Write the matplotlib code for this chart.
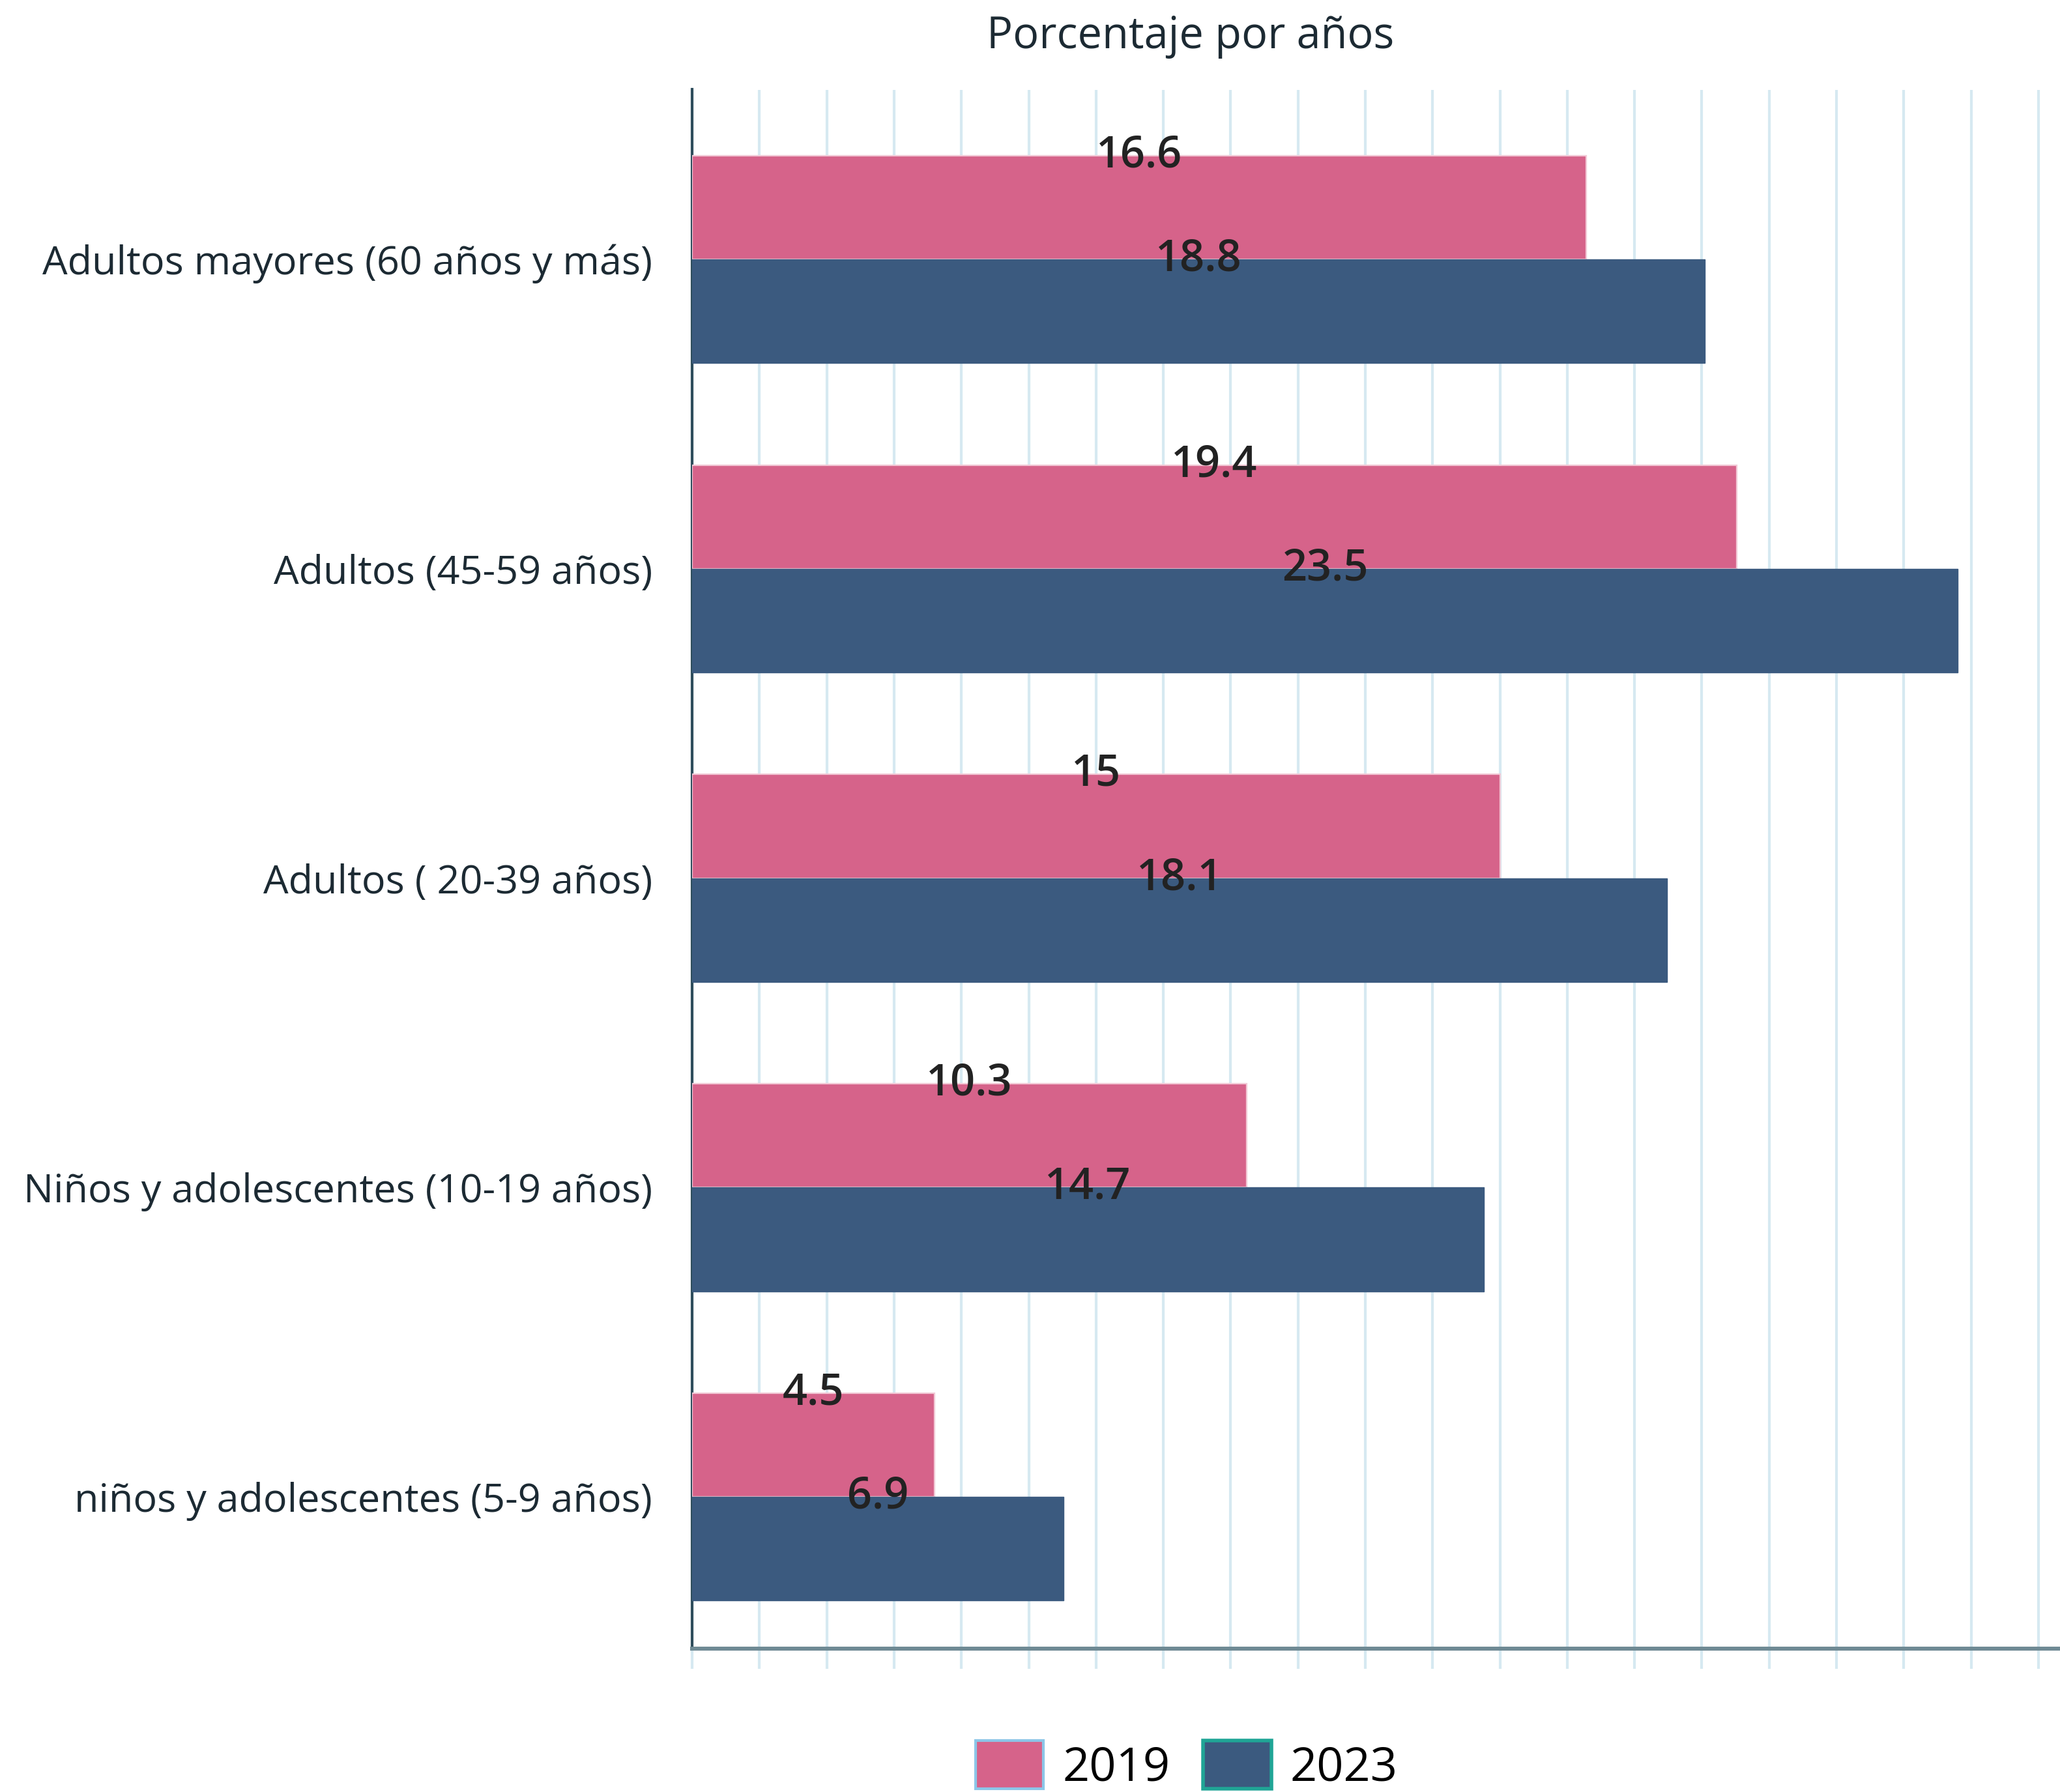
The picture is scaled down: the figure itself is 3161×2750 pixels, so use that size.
import numpy as np
import matplotlib.pyplot as plt
from matplotlib.patches import Patch
from matplotlib.ticker import MultipleLocator

categorias = [
    'Adultos mayores (60 años y más)',
    'Adultos (45-59 años)',
    'Adultos ( 20-39 años)',
    'Niños y adolescentes (10-19 años)',
    'niños y adolescentes (5-9 años)',
]
valores_2019 = [16.6, 19.4, 15, 10.3, 4.5]
valores_2023 = [18.8, 23.5, 18.1, 14.7, 6.9]
etiquetas_2019 = ['16.6', '19.4', '15', '10.3', '4.5']
etiquetas_2023 = ['18.8', '23.5', '18.1', '14.7', '6.9']

rosa = '#d6638a'
azul = '#3b5a7f'
rejilla = '#d6e9f1'

plt.rcParams['font.family'] = ['Open Sans', 'DejaVu Sans']

fig = plt.figure(figsize=(15.805, 13.75), dpi=200)
ax = fig.add_axes([0.336, 0.08, 0.664, 0.87])

y = np.arange(len(categorias))
h = 0.335

ax.barh(y - h / 2, valores_2019, height=h, color=rosa, edgecolor='#f2c9d6', linewidth=0.8, zorder=3)
ax.barh(y + h / 2, valores_2023, height=h, color=azul, edgecolor=azul, linewidth=0.5, zorder=3)

for i in range(len(categorias)):
    ax.text(valores_2019[i] / 2, y[i] - h, etiquetas_2019[i], ha='center', va='center',
            fontsize=24, color='#222222', fontweight='semibold', zorder=5)
    ax.text(valores_2023[i] / 2, y[i], etiquetas_2023[i], ha='center', va='center',
            fontsize=24, color='#222222', fontweight='semibold', zorder=5)

ax.set_xlim(0, 25.4)
ax.set_ylim(4.49, -0.548)
ax.set_yticks(y)
ax.set_yticklabels(categorias, fontsize=22, color='#1c2a33')
ax.tick_params(axis='y', length=0, pad=22)

ax.xaxis.set_major_locator(MultipleLocator(1.25))
ax.tick_params(axis='x', length=11, width=1.5, color=rejilla, labelbottom=False)
ax.grid(axis='x', color=rejilla, linewidth=1.5, zorder=0)
ax.set_axisbelow(True)

for s in ['top', 'right']:
    ax.spines[s].set_visible(False)
ax.spines['left'].set_color('#2e4d5c')
ax.spines['left'].set_linewidth(1.5)
ax.spines['bottom'].set_color('#6f8a94')
ax.spines['bottom'].set_linewidth(2.2)

fig.text(0.578, 0.992, 'Porcentaje por años', ha='center', va='top', fontsize=24, color='#1c2a33')

handles = [Patch(facecolor=rosa, edgecolor='#8cc6e8', linewidth=1.5),
           Patch(facecolor=azul, edgecolor='#20a596', linewidth=2)]
fig.legend(handles, ['2019', '2023'], loc='center', bbox_to_anchor=(0.576, 0.0145),
           ncol=2, frameon=False, fontsize=26, handlelength=1.45, handleheight=1.2,
           handletextpad=0.4, columnspacing=0.7, borderpad=0.1)

fig.savefig('out.png', dpi=200)
